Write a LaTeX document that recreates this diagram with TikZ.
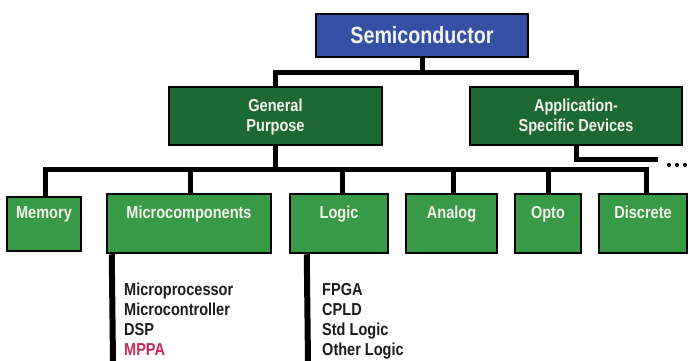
\documentclass[tikz,border=0pt]{standalone}
\usepackage{fontspec}
\setmainfont{Liberation Sans}[FakeStretch=0.84]
\definecolor{semiblue}{HTML}{3451A6}
\definecolor{darkgreen}{HTML}{1C6934}
\definecolor{litegreen}{HTML}{389A47}
\definecolor{mppared}{HTML}{C42A5A}
\definecolor{offwhite}{HTML}{F4F4EC}
\definecolor{listgray}{HTML}{1C1C1C}
\tikzset{
  box/.style={draw=black, line width=2.5pt, inner sep=0pt},
  rootbox/.style={box, fill=semiblue},
  midbox/.style={box, fill=darkgreen},
  leafbox/.style={box, fill=litegreen},
  boxtext/.style={text=offwhite, font=\bfseries\fontsize{17.3}{20}\selectfont, inner sep=0pt},
  listtext/.style={text=listgray, font=\bfseries\fontsize{17.3}{20}\selectfont, inner sep=0pt, anchor=base west},
  conn/.style={draw=black, line width=5pt, line join=miter},
  trunk/.style={draw=black, line width=6pt},
}
\begin{document}
\begin{tikzpicture}[x=1pt, y=-1pt]
\useasboundingbox (0,0) rectangle (689,360);

% tree boxes
\node[rootbox, minimum width=212pt, minimum height=43pt] (semi) at (422,35.5) {};
\node[midbox, minimum width=213pt, minimum height=58pt] (gp) at (275.5,116) {};
\node[midbox, minimum width=212pt, minimum height=58pt] (asd) at (576,116) {};
\node[leafbox, minimum width=74pt, minimum height=54pt] (mem) at (44,224) {};
\node[leafbox, minimum width=164pt, minimum height=59pt] (micro) at (189,223.5) {};
\node[leafbox, minimum width=98pt, minimum height=59pt] (logic) at (339,223.5) {};
\node[leafbox, minimum width=91pt, minimum height=59pt] (analog) at (451.5,223.5) {};
\node[leafbox, minimum width=66pt, minimum height=59pt] (opto) at (548,223.5) {};
\node[leafbox, minimum width=88pt, minimum height=59pt] (disc) at (643,223.5) {};

% box labels
\node[boxtext, font=\bfseries\fontsize{23.4}{26}\selectfont, anchor=base] (tsemi) at (422,43) {Semiconductor};
\node[boxtext, align=center] (tgp) at (275.5,117) {General\\Purpose};
\node[boxtext, align=center] (tasd) at (576,117) {Application-\\Specific Devices};
\node[boxtext, anchor=base] (tmem) at (44,218) {Memory};
\node[boxtext, anchor=base] (tmicro) at (189,218) {Microcomponents};
\node[boxtext, anchor=base] (tlogic) at (339,218) {Logic};
\node[boxtext, anchor=base] (tanalog) at (451.5,218) {Analog};
\node[boxtext, anchor=base] (topto) at (548,218) {Opto};
\node[boxtext, anchor=base] (tdisc) at (643,218) {Discrete};

% connectors: root to second level
\coordinate (bus1) at (422,72);
\draw[conn] (semi.south) -- (bus1);
\draw[conn] (gp.north) |- (bus1) -| (asd.north);

% connectors: general purpose to product families
\coordinate (bus2) at (275.5,169);
\draw[conn] (gp.south) -- (bus2);
\draw[conn] ([xshift=1pt]mem.north) |- (bus2) -| ([xshift=3pt]disc.north);
\draw[conn] ([xshift=1pt]micro.north) -- ([xshift=1pt]micro.north |- bus2);
\draw[conn] ([xshift=3pt]logic.north) -- ([xshift=3pt]logic.north |- bus2);
\draw[conn] ([xshift=1.5pt]analog.north) -- ([xshift=1.5pt]analog.north |- bus2);
\draw[conn] (opto.north) -- (opto.north |- bus2);

% application-specific branch continues
\coordinate (asdend) at (658,159);
\draw[conn] (asd.south) |- (asdend);
\foreach \dx in {669,677,685} \fill[black] (\dx,165) circle (2.1pt);

% trunks under microcomponents and logic
\coordinate (microend) at (113,362);
\coordinate (logicend) at (308,362);
\draw[trunk] ([xshift=6pt]micro.south west) -- (microend);
\draw[trunk] ([xshift=18pt]logic.south west) -- (logicend);

% member lists
\node[listtext] (l1) at (124,295) {Microprocessor};
\node[listtext] (l2) at (124,315) {Microcontroller};
\node[listtext] (l3) at (124,335) {DSP};
\node[listtext, text=mppared] (l4) at (124,355) {MPPA};
\node[listtext] (g1) at (322,295) {FPGA};
\node[listtext] (g2) at (322,315) {CPLD};
\node[listtext] (g3) at (322,335) {Std Logic};
\node[listtext] (g4) at (322,355) {Other Logic};
\end{tikzpicture}
\end{document}
